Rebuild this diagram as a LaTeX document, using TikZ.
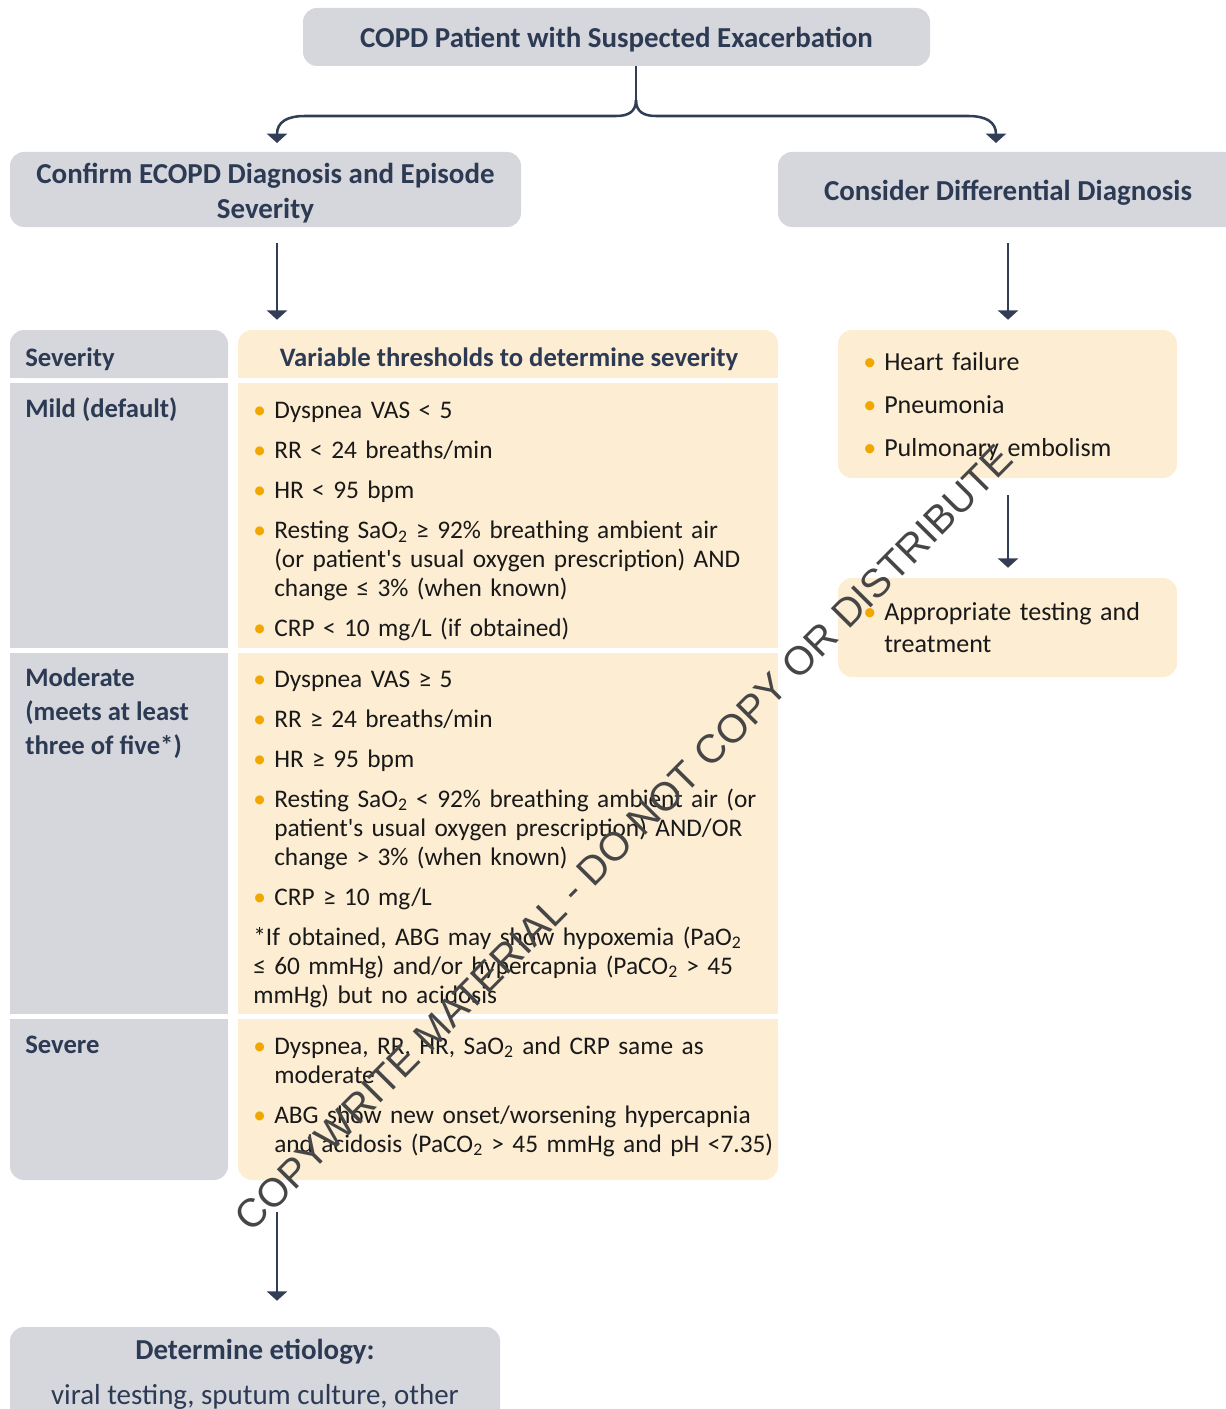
\documentclass[tikz,border=0pt]{standalone}
\usepackage{fontspec}
\setmainfont{Carlito}
\newfontfamily\markfont{Liberation Sans}
\usepackage{pdfrender}
\usetikzlibrary{arrows.meta}

\definecolor{boxgray}{RGB}{214,215,220}
\definecolor{boxcream}{RGB}{252,237,211}
\definecolor{navy}{RGB}{44,58,84}
\definecolor{bulletorange}{RGB}{240,168,0}
\definecolor{arrowc}{RGB}{50,62,86}
\definecolor{textc}{RGB}{25,25,25}
\definecolor{markc}{RGB}{70,70,70}

\newcommand{\headfont}{\fontsize{21.7}{26.25}\selectfont\bfseries}
\newcommand{\bodyfont}{\fontsize{19}{21.75}\selectfont}
\newcommand{\colfont}{\fontsize{20}{25.5}\selectfont\bfseries}
\newcommand{\bitem}{\par\hangindent=15.75pt\hangafter=1\noindent\strut\makebox[15.75pt][l]{\textcolor{bulletorange}{\textbullet}}}

\tikzset{
  graybox/.style={fill=boxgray, rounded corners=10.5pt, inner sep=0pt},
  creambox/.style={fill=boxcream, rounded corners=10.5pt, inner sep=0pt},
  flatgray/.style={fill=boxgray, inner sep=0pt},
  flatcream/.style={fill=boxcream, inner sep=0pt},
  headtext/.style={inner sep=0pt, text=navy, font=\headfont, align=center},
  coltext/.style={inner sep=0pt, text=navy, font=\colfont, align=left},
  celltext/.style={anchor=north west, inner sep=0pt, text width=390pt, align=left, text=textc, font=\bodyfont,
    execute at begin node={\setlength{\parskip}{#1}\vspace*{-\parskip}}},
  celltext/.default=8.25pt,
  conn/.style={draw=arrowc, line width=1.9pt},
  arr/.style={conn, -{Triangle[width=15pt,length=7pt]}},
}

\begin{document}
\begin{tikzpicture}[x=0.75pt,y=0.75pt,yscale=-1,xscale=1]
\useasboundingbox (0,0) rectangle (1225,1409);

% boxes
\node[graybox, minimum width=470.25pt, minimum height=43.5pt] (patient) at (616.5,37) {};
\node[graybox, minimum width=383.25pt, minimum height=56.25pt] (confirm) at (265.5,189.5) {};
\node[graybox, minimum width=345pt, minimum height=56.25pt] (diffbox) at (1008,189.5) {};

\node[graybox, minimum width=163.5pt, minimum height=36pt] (sevhead) at (119,354) {};
\node[creambox, minimum width=405pt, minimum height=36pt] (varhead) at (508,354) {};
\fill[boxgray] (sevhead.west) rectangle (sevhead.south east);
\fill[boxcream] (varhead.west) rectangle (varhead.south east);
\node[flatgray, minimum width=163.5pt, minimum height=198.75pt] (mildL) at (119,515.5) {};
\node[flatcream, minimum width=405pt, minimum height=198.75pt] (mildR) at (508,515.5) {};
\node[flatgray, minimum width=163.5pt, minimum height=270.75pt] (modL) at (119,833.5) {};
\node[flatcream, minimum width=405pt, minimum height=270.75pt] (modR) at (508,833.5) {};
\node[graybox, minimum width=163.5pt, minimum height=120.75pt] (sevL) at (119,1099.5) {};
\node[creambox, minimum width=405pt, minimum height=120.75pt] (sevR) at (508,1099.5) {};
\fill[boxgray] (sevL.north west) rectangle (sevL.east);
\fill[boxcream] (sevR.north west) rectangle (sevR.east);

\node[creambox, minimum width=254.25pt, minimum height=111pt] (difflist) at (1007.5,404) {};
\node[creambox, minimum width=254.25pt, minimum height=74.25pt] (treat) at (1007.5,627.5) {};
\node[graybox, minimum width=367.5pt, minimum height=84.75pt] (etiology) at (255,1383.5) {};

% connectors
\coordinate (brace) at (636,100);
\coordinate (tipL) at (277,143);
\coordinate (tipR) at (996,143);
\coordinate (colL) at (277,0);
\coordinate (colR) at (1008,0);
\draw[conn] (patient.south -| brace) -- (brace);
\draw[arr] (brace) .. controls (636,112) and (628,116) .. (616,116) -- (305,116) .. controls (287,116) and (277,122) .. (tipL);
\draw[arr] (brace) .. controls (636,112) and (644,116) .. (656,116) -- (968,116) .. controls (986,116) and (996,122) .. (tipR);
\draw[arr, shorten <=12pt, shorten >=7.5pt] (confirm.south -| colL) -- (varhead.north -| colL);
\draw[arr, shorten <=12pt, shorten >=7.5pt] (diffbox.south -| colR) -- (difflist.north -| colR);
\draw[arr, shorten <=12.75pt, shorten >=7.5pt] (difflist.south -| colR) -- (treat.north -| colR);
\draw[arr, shorten <=24pt, shorten >=19.5pt] (sevL.south -| colL) -- (etiology.north -| colL);

% texts
\node[headtext] (patientlbl) at (616.5,40) {COPD Patient with Suspected Exacerbation};
\node[headtext] (confirmlbl) at (265.5,193) {Confirm ECOPD Diagnosis and Episode\\Severity};
\node[headtext] (difflbl) at (1008,192.5) {Consider Differential Diagnosis};

\node[coltext, anchor=base west] (sevlbl) at (25,366) {Severity};
\node[coltext, anchor=base] (varlbl) at (509,366) {Variable thresholds to determine severity};
\node[coltext, anchor=base west] (mildlbl) at (25,417) {Mild (default)};
\node[coltext, anchor=north west] (modlbl) at (25,662.5) {\strut Moderate\\(meets at least\\three of five*)};
\node[coltext, anchor=base west] (sevrlbl) at (25,1053) {Severe};

\node[celltext] (mildtxt) at (253,389.5) {%
\bitem Dyspnea VAS < 5
\bitem RR < 24 breaths/min
\bitem HR < 95 bpm
\bitem Resting SaO\textsubscript{2} ≥ 92\% breathing ambient air\newline (or patient\textquotesingle s usual oxygen prescription) AND\newline change ≤ 3\% (when known)
\bitem CRP < 10 mg/L (if obtained)\par};

\node[celltext] (modtxt) at (253,658) {%
\bitem Dyspnea VAS ≥ 5
\bitem RR ≥ 24 breaths/min
\bitem HR ≥ 95 bpm
\bitem Resting SaO\textsubscript{2} < 92\% breathing ambient air (or\newline patient\textquotesingle s usual oxygen prescription) AND/OR\newline change > 3\% (when known)
\bitem CRP ≥ 10 mg/L
\par\noindent *If obtained, ABG may show hypoxemia (PaO\textsubscript{2}\newline ≤ 60 mmHg) and/or hypercapnia (PaCO\textsubscript{2} > 45\newline mmHg) but no acidosis\par};

\node[celltext] (sevtxt) at (253,1025) {%
\bitem Dyspnea, RR, HR, SaO\textsubscript{2} and CRP same as\newline moderate
\bitem ABG show new onset/worsening hypercapnia\newline and acidosis (PaCO\textsubscript{2} > 45 mmHg and pH <7.35)\par};

\node[celltext=10.5pt, text width=250pt, font=\fontsize{19.5}{21.75}\selectfont] (difftxt) at (863,341.5) {%
\bitem Heart failure
\bitem Pneumonia
\bitem Pulmonary embolism\par};

\node[celltext, text width=250pt, font=\fontsize{19.5}{24}\selectfont] (treattxt) at (863,587.8) {%
\bitem Appropriate testing and\newline treatment\par};

\node[anchor=base, inner sep=0pt, text=navy, font=\headfont] (etiohead) at (255,1359) {Determine etiology:};
\node[anchor=base, inner sep=0pt, text=navy, font=\fontsize{21.7}{26}\selectfont] (etiotext) at (255,1404) {viral testing, sputum culture, other};

\node[rotate=45.3, inner sep=0pt, text=markc, font=\markfont\fontsize{30}{35}\selectfont] (mark) at (624,838)
  {\textpdfrender{TextRenderingMode=Stroke,LineWidth=0.45}{COPYWRITE MATERIAL - DO NOT COPY OR DISTRIBUTE}};
\end{tikzpicture}
\end{document}
